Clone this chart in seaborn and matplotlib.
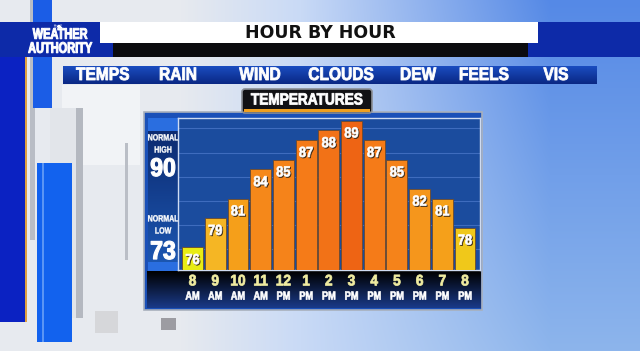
import numpy as np
import pandas as pd
import matplotlib.pyplot as plt
import seaborn as sns
import matplotlib.patheffects as pe
from matplotlib.patches import Rectangle, FancyBboxPatch
from matplotlib.colors import to_rgb, to_rgba
from matplotlib.transforms import Affine2D

hours = ["8", "9", "10", "11", "12", "1", "2", "3", "4", "5", "6", "7", "8"]
periods = ["AM", "AM", "AM", "AM", "PM", "PM", "PM", "PM", "PM", "PM", "PM", "PM", "PM"]
temps = [76, 79, 81, 84, 85, 87, 88, 89, 87, 85, 82, 81, 78]
tabs = ["TEMPS", "RAIN", "WIND", "CLOUDS", "DEW", "FEELS", "VIS"]
normal_high = 90
normal_low = 73

bar_colors = ["#e8ec14", "#f5b624", "#f59f1a", "#f5881a", "#f5831a", "#f57b18",
              "#f27217", "#ee6414", "#f57b18", "#f5831a", "#f5961c", "#f5a01a", "#f0c81a"]
grid_levels = [75.8, 78.3, 80.75, 83.2, 85.7, 88.2]

sns.set_style("white")
plt.rcParams['font.family'] = ['Liberation Sans', 'DejaVu Sans']


# squeeze glyphs sideways (no condensed face installed), thicken, optional drop shadow
class Narrow(pe.AbstractPathEffect):
    def __init__(self, sx=0.85, lw=0.5, shadow=None, offset=(0.9, -0.9)):
        super().__init__()
        self.sx, self.lw, self.shadow, self.off = sx, lw, shadow, offset

    def _fill(self, renderer, gc, path, trans, color):
        gc0 = renderer.new_gc()
        gc0.copy_properties(gc)
        gc0.set_linewidth(self.lw)
        gc0.set_foreground(color)
        gc0.set_joinstyle("round")
        renderer.draw_path(gc0, path, trans, to_rgba(color))
        gc0.restore()

    def draw_path(self, renderer, gc, tpath, affine, rgbFace=None):
        ext = tpath.get_extents()
        cx = 0.5 * (ext.x0 + ext.x1)
        sq = Affine2D().translate(-cx, 0).scale(self.sx, 1).translate(cx, 0)
        if self.shadow is not None:
            self._fill(renderer, gc, tpath, sq + affine + Affine2D().translate(*self.off),
                       self.shadow)
        self._fill(renderer, gc, tpath, sq + affine, rgbFace)


def label(ax_, x, y, s, size, sx, lw=0.5, color="white", shadow=None, **kw):
    return ax_.text(x, y, s, fontsize=size, fontweight="bold", color=color,
                    ha=kw.pop("ha", "center"), va=kw.pop("va", "center"),
                    path_effects=[Narrow(sx, lw, shadow)], **kw)


fig = plt.figure(figsize=(6.4, 3.51), dpi=100)

# background layer in pixel coords
bg = fig.add_axes([0, 0, 1, 1])
bg.set_xlim(0, 640)
bg.set_ylim(351, 0)
bg.axis("off")

W, H = 640, 351
ys = np.linspace(0, 1, H)
left_c = np.array(to_rgb("#e7eaef"))
mid_c = np.array(to_rgb("#c9daf6"))
right_top = np.array(to_rgb("#5589e6"))
right_bot = np.array(to_rgb("#8db5ec"))
img = np.zeros((H, W, 3))
vert = right_top[None, :] * (1 - ys[:, None]) + right_bot[None, :] * ys[:, None]
for px in range(W):
    if px < 180:
        img[:, px] = left_c
    elif px < 300:
        t = (px - 180) / 120
        img[:, px] = left_c * (1 - t) + mid_c * t
    else:
        t = min((px - 300) / 250, 1)
        img[:, px] = mid_c[None, :] * (1 - t) + vert * t
bg.imshow(img, extent=(0, 640, 351, 0), aspect="auto", zorder=0)


def rect(x0, y0, x1, y1, color, z=1, **kw):
    bg.add_patch(Rectangle((x0, y0), x1 - x0, y1 - y0, facecolor=color,
                           edgecolor=kw.pop("ec", "none"), zorder=z, **kw))


def vgrad(x0, y0, x1, y1, c1, c2, z=1):
    c1, c2 = np.array(to_rgb(c1)), np.array(to_rgb(c2))
    t = np.linspace(0, 1, 50)[:, None]
    g = (c1 * (1 - t) + c2 * t)[:, None, :]
    bg.imshow(g, extent=(x0, x1, y1, y0), aspect="auto", zorder=z)


# left decorations
rect(62, 85, 140, 165, "#f1f3f6", 1)
rect(50, 108, 83, 318, "#e2e5ea", 1)
rect(76, 108, 83, 318, "#b4b8c0", 1)
rect(30, 0, 35, 240, "#b9bdc5", 1)
rect(33, 0, 52, 108, "#1b5de6", 2)
rect(37, 163, 72, 342, "#1262ee", 2)
rect(42, 163, 44, 342, "#5a95f4", 2)
rect(0, 57, 26, 322, "#0b22c2", 2)
rect(25, 57, 26.5, 322, "#e0a040", 2)
rect(125, 143, 128, 260, "#babec6", 1)
rect(95, 311, 118, 333, "#d6d7da", 1)
rect(161, 318, 176, 330, "#9c9ca2", 1)

# header band
rect(0, 22, 640, 57, "#0d2aa8", 3)
rect(100, 22, 538, 43, "white", 4)
rect(113, 43, 528, 57, "#0b0b0e", 4)
bg.text(320, 33, "HOUR BY HOUR", ha="center", va="center", fontsize=12.5,
        fontweight="bold", color="#111111", family="DejaVu Sans", zorder=5)
label(bg, 58, 26.5, "THE", 3.5, 0.8, lw=0.2, zorder=5)
label(bg, 60, 41.8, "WEATHER\nAUTHORITY", 11, 0.72, lw=0.7, zorder=5, linespacing=1.0)

# tab bar
vgrad(63, 66, 597, 84, "#1a4cc0", "#0a2884", 3)
tab_x = [103, 178, 260, 341, 418, 484, 556]
for name, tx in zip(tabs, tab_x):
    label(bg, tx, 75.5, name, 13, 0.86, lw=0.6, zorder=5)

# TEMPERATURES tag
bg.add_patch(FancyBboxPatch((242, 89), 130, 24, boxstyle="round,pad=0,rounding_size=3",
                            facecolor="#111114", edgecolor="#8a8e96", lw=1.2, zorder=4))
rect(244, 109, 370, 112, "#f0a020", 5)
label(bg, 307, 100, "TEMPERATURES", 11.7, 0.84, lw=0.6, zorder=6)

# chart panel
rect(144, 112, 482, 310, "#1a50b8", 3, ec="#a8b0bc", lw=1.2)
rect(148, 118, 178, 131, "#2a6ee0", 4)
vgrad(148, 131, 178, 262, "#0c2a70", "#1c56b0", 4)
rect(148, 262, 178, 271, "#2a6ee0", 4)
vgrad(147, 271, 481, 308, "#000000", "#1a3a88", 4)

label(bg, 163, 144, "NORMAL\nHIGH", 6.5, 0.78, lw=0.25, zorder=6, linespacing=1.45)
label(bg, 163, 225, "NORMAL\nLOW", 6.5, 0.78, lw=0.25, zorder=6, linespacing=1.45)
label(bg, 163, 169, str(normal_high), 18.4, 0.9, lw=0.9, zorder=6)
label(bg, 163, 252, str(normal_low), 18.4, 0.9, lw=0.9, zorder=6)

# bar chart
ax = fig.add_axes([178 / 640, (351 - 270) / 351, 302 / 640, 152 / 351])
ax.set_facecolor("#1b4c9e")
slots = [f"{h} {p}" for h, p in zip(hours, periods)]
df = pd.DataFrame({"slot": slots, "temp": temps})
sns.barplot(data=df, x="slot", y="temp", hue="slot", palette=bar_colors,
            legend=False, saturation=1, width=0.92, edgecolor="#6a4a30",
            linewidth=0.6, ax=ax, zorder=3)
ax.set_xlim(-0.64, 12.66)
ax.set_ylim(73.67, 89.27)
ax.set_yticks(grid_levels)
ax.grid(axis="y", color="#3e6cbe", lw=0.8)
ax.set_axisbelow(True)
ax.tick_params(left=False, bottom=False, labelleft=False, labelbottom=False)
ax.set_xlabel("")
ax.set_ylabel("")
for s in ax.spines.values():
    s.set_color("#cfdcf2")
    s.set_linewidth(1)

for i, t in enumerate(temps):
    label(ax, i, t - 0.6, str(t), 10.5, 0.88, lw=0.5, shadow="#3a2a18", va="top", zorder=5)

trans = ax.get_xaxis_transform()
for i, (h, p) in enumerate(zip(hours, periods)):
    label(ax, i, -0.075, h, 11, 0.9, lw=0.55, color="#f0eca0", transform=trans, clip_on=False)
    label(ax, i, -0.175, p, 8.5, 0.78, lw=0.45, transform=trans, clip_on=False)

fig.savefig("out.png", dpi=100)
